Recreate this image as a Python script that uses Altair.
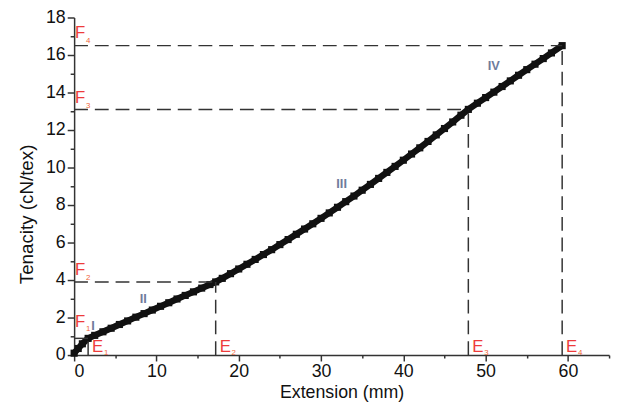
import altair as alt
import pandas as pd

# Curve
curve_x = [0, 0.5, 1.0, 1.7, 2.5, 3.5, 4.5, 5.5, 6.5, 7.5, 8.5, 9.5, 10.5, 11.5, 12.5,
           13.5, 14.5, 15.5, 16.5, 17.2, 18, 19, 20, 21, 22, 23, 24, 25, 26, 27, 28,
           29, 30, 31, 32, 33, 34, 35, 36, 37, 38, 39, 40, 41, 42, 43, 44, 45, 46, 47,
           47.9, 49, 50, 51, 52, 53, 54, 55, 56, 57, 58, 59.3]
curve_y = [0.1, 0.35, 0.6, 0.89, 1.05, 1.24, 1.43, 1.63, 1.82, 2.02, 2.21, 2.40, 2.60, 2.79, 2.99,
           3.18, 3.37, 3.57, 3.76, 3.90, 4.09, 4.34, 4.59, 4.84, 5.10, 5.36, 5.62, 5.89, 6.16, 6.44, 6.72,
           7.00, 7.29, 7.58, 7.88, 8.18, 8.48, 8.79, 9.10, 9.42, 9.74, 10.06, 10.39, 10.72, 11.05, 11.39,
           11.74, 12.08, 12.43, 12.79,
           13.10, 13.43, 13.73, 14.02, 14.32, 14.62, 14.92, 15.22, 15.51, 15.81, 16.11, 16.50]

e_vals = [1.7, 17.2, 47.9, 59.3]
f_vals = [0.89, 3.9, 13.1, 16.5]
idx = ["1", "2", "3", "4"]

region_names = ["I", "II", "III", "IV"]
region_x = [2.3, 8.4, 32.5, 51.0]
region_y = [1.55, 3.0, 9.1, 15.4]

x_major = [0, 10, 20, 30, 40, 50, 60]
x_minor = [5, 15, 25, 35, 45, 55, 65]
y_major = [0, 2, 4, 6, 8, 10, 12, 14, 16, 18]
y_minor = [1, 3, 5, 7, 9, 11, 13, 15, 17]

FONT = "Liberation Sans"
RED = "#ee3b3b"
SUB = "#f0663a"
AX = "#333333"

curve = pd.DataFrame({"x": curve_x, "y": curve_y})
marks = pd.DataFrame({"e": e_vals, "f": f_vals, "i": idx, "zero": [0] * 4})
regions = pd.DataFrame({"x": region_x, "y": region_y, "t": region_names})

xscale = alt.Scale(domain=[0, 65], nice=False, zero=False)
yscale = alt.Scale(domain=[0, 18], nice=False, zero=False)

xaxis = alt.Axis(values=x_major, tickSize=6, title="Extension (mm)", grid=False,
                 labelPadding=2, titlePadding=3, labelOverlap=False, orient="bottom",
                 labelFontSize=18, titleFontSize=18)
yaxis = alt.Axis(values=y_major, tickSize=7, title="Tenacity (cN/tex)", grid=False,
                 labelPadding=2, labelOverlap=False, orient="left",
                 labelFontSize=18, titleFontSize=19, titleY=199, titlePadding=9)
xaxis_minor = alt.Axis(values=x_minor, tickSize=3, labels=False, domain=False, title=None,
                       grid=False, orient="bottom")
yaxis_minor = alt.Axis(values=y_minor, tickSize=4, labels=False, domain=False, title=None,
                       grid=False, orient="left")

line = alt.Chart(curve).mark_line(color="#111111", strokeWidth=6.5).encode(
    x=alt.X("x:Q", scale=xscale, axis=xaxis), y=alt.Y("y:Q", scale=yscale, axis=yaxis))
pts = alt.Chart(curve).mark_point(shape="square", filled=True, size=52, color="#111111", opacity=1).encode(
    x=alt.X("x:Q", scale=xscale, axis=xaxis_minor), y=alt.Y("y:Q", scale=yscale, axis=yaxis_minor))

dash = [14, 7]
hrules = alt.Chart(marks).mark_rule(color=AX, strokeWidth=1.5, strokeDash=dash).encode(
    x=alt.X("zero:Q", scale=xscale, axis=None), x2="e:Q", y=alt.Y("f:Q", scale=yscale, axis=None))
vrules = alt.Chart(marks).mark_rule(color=AX, strokeWidth=1.5, strokeDash=dash).encode(
    x=alt.X("e:Q", scale=xscale, axis=None), y=alt.Y("zero:Q", scale=yscale, axis=None), y2="f:Q")

f_off = [-12, -7, -6, -8]
f_layers = []
e_layers = []
for k in range(4):
    row = marks.iloc[[k]]
    f_layers.append(alt.Chart(row).mark_text(text="F", font=FONT, fontSize=17, color=RED, align="left",
                                             baseline="alphabetic", dx=1, dy=f_off[k]).encode(
        x=alt.X("zero:Q", scale=xscale, axis=None), y=alt.Y("f:Q", scale=yscale, axis=None)))
    f_layers.append(alt.Chart(row).mark_text(font=FONT, fontSize=8, color=SUB, align="left",
                                             baseline="alphabetic", dx=12, dy=f_off[k] + 5).encode(
        x=alt.X("zero:Q", scale=xscale, axis=None), y=alt.Y("f:Q", scale=yscale, axis=None), text="i:N"))
    e_layers.append(alt.Chart(row).mark_text(text="E", font=FONT, fontSize=17, color=RED, align="left",
                                             baseline="alphabetic", dx=4, dy=-3).encode(
        x=alt.X("e:Q", scale=xscale, axis=None), y=alt.Y("zero:Q", scale=yscale, axis=None)))
    e_layers.append(alt.Chart(row).mark_text(font=FONT, fontSize=8, color=SUB, align="left",
                                             baseline="alphabetic", dx=16, dy=0).encode(
        x=alt.X("e:Q", scale=xscale, axis=None), y=alt.Y("zero:Q", scale=yscale, axis=None), text="i:N"))

rtext = alt.Chart(regions).mark_text(font=FONT, fontSize=13, fontWeight="bold", color="#6f7c9c").encode(
    x=alt.X("x:Q", scale=xscale, axis=None), y=alt.Y("y:Q", scale=yscale, axis=None), text="t:N")

chart = alt.layer(line, pts, hrules, vrules, rtext, *f_layers, *e_layers).resolve_axis(
    x="independent", y="independent"
).properties(
    width=542, height=342,
    background="white",
    autosize=alt.AutoSizeParams(type="none"),
    padding={"left": 67, "top": 7, "right": 6, "bottom": 50},
).configure_view(stroke=None).configure_axis(
    domainColor=AX, domainWidth=1.5, tickColor=AX, tickWidth=1.5,
    labelFont=FONT, labelColor="#111111",
    titleFont=FONT, titleFontWeight="normal", titleColor="#111111",
)

chart.save("out.html", embed_options={"renderer": "svg", "actions": False})
